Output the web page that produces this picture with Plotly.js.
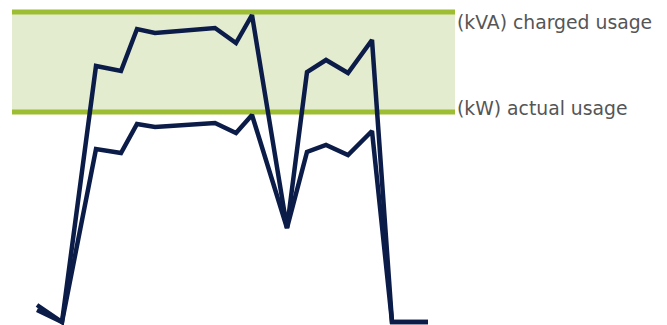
<!DOCTYPE html>
<html>
<head>
<meta charset="utf-8">
<script src="https://cdn.plot.ly/plotly-3.0.1.min.js"></script>
<style>html,body{margin:0;padding:0;background:#fff;}#chart{width:667px;height:325px;}</style>
</head>
<body>
<div id="chart"></div>
<script>
// Time positions (arbitrary units)
var times = [0, 25, 59, 84, 100, 118, 178, 199, 215, 250, 270, 289, 311, 335, 355, 391];
// Charged usage (kVA)
var kva = [17, 0, 256, 251, 293, 289, 294, 279, 307, 94, 250, 262, 249, 282, 0, 0];
// Actual usage (kW)
var kw = [12, 0, 173, 169, 198, 195, 199, 189, 207, 94, 170, 177, 167, 191, 0, 0];
// Reference levels
var chargedLevel = 310;
var actualLevel = 210;
var labels = ["(kVA) charged usage", "(kW) actual usage"];

var navy = "#0c1c48";
var green = "#9dbd32";

var traces = [
  {x: times, y: kva, mode: "lines", line: {color: navy, width: 4.5}, hoverinfo: "skip"},
  {x: times, y: kw, mode: "lines", line: {color: navy, width: 4.5}, hoverinfo: "skip"}
];

var layout = {
  width: 667, height: 325,
  margin: {l: 0, r: 0, t: 0, b: 0},
  paper_bgcolor: "#fff", plot_bgcolor: "#fff",
  showlegend: false,
  xaxis: {range: [-37, 630], visible: false, fixedrange: true},
  yaxis: {range: [-3, 322], visible: false, fixedrange: true},
  shapes: [
    {type: "rect", xref: "paper", yref: "y", x0: 12/667, x1: 455/667, y0: actualLevel, y1: chargedLevel,
     fillcolor: "#e4ecd0", line: {width: 0}, layer: "below"},
    {type: "line", xref: "paper", yref: "y", x0: 12/667, x1: 455/667, y0: chargedLevel, y1: chargedLevel,
     line: {color: green, width: 5}, layer: "below"},
    {type: "line", xref: "paper", yref: "y", x0: 12/667, x1: 455/667, y0: actualLevel, y1: actualLevel,
     line: {color: green, width: 5}, layer: "below"}
  ],
  annotations: [
    {xref: "paper", yref: "y", x: 455/667, y: chargedLevel - 10, xanchor: "left", yanchor: "middle",
     text: labels[0], showarrow: false, font: {family: "DejaVu Sans", size: 18.8, color: "#555"}},
    {xref: "paper", yref: "y", x: 455/667, y: actualLevel + 4, xanchor: "left", yanchor: "middle",
     text: labels[1], showarrow: false, font: {family: "DejaVu Sans", size: 18.8, color: "#555"}}
  ]
};

Plotly.newPlot("chart", traces, layout, {displayModeBar: false, staticPlot: true});
</script>
</body>
</html>
